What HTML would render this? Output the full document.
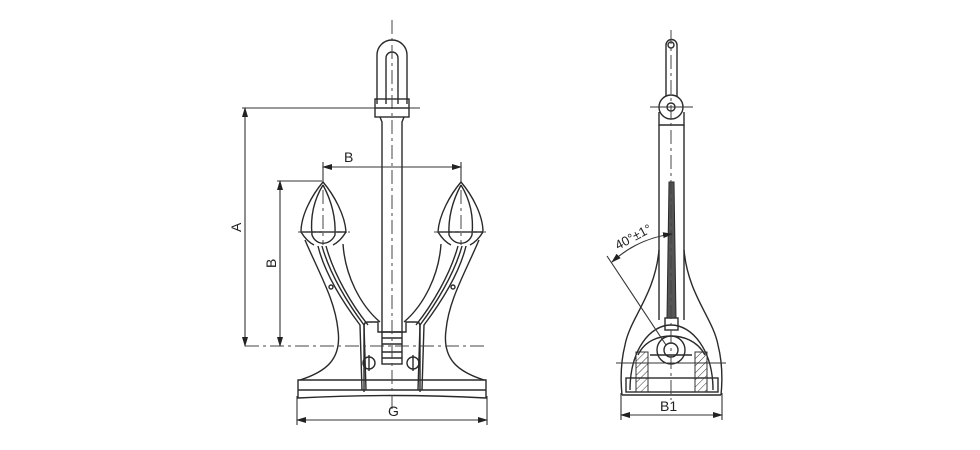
<!DOCTYPE html>
<html><head><style>
html,body{margin:0;padding:0;background:#fff;}
svg{display:block;}
text{font-family:"Liberation Sans",sans-serif;fill:#222;}
</style></head><body>
<svg width="980" height="450" viewBox="0 0 980 450" xmlns="http://www.w3.org/2000/svg">
<defs>
<marker id="ar" markerWidth="10" markerHeight="6" refX="9" refY="3" orient="auto-start-reverse" markerUnits="userSpaceOnUse">
<path d="M0,0 L10,3 L0,6 z" fill="#222"/></marker>
<pattern id="hat" width="5" height="5" patternUnits="userSpaceOnUse" patternTransform="rotate(45)">
<line x1="0" y1="0" x2="0" y2="5" stroke="#333" stroke-width="1"/></pattern>
<g id="halfL" fill="none" stroke="#2a2a2a" stroke-width="1.4">
  <path d="M323,182 C312,195 301,215 301,232 L346,232 C345,215 334,195 323,182 Z"/>
  <path d="M323,185 C315,198 310,215 312,235 C316,246 330,246 335,235 C336,215 330,198 323,185"/>
  <path d="M301,232 C306,240 310,243 314,245 M346,232 C341,240 337,243 333,245"/>
  <path d="M305,240 C320,275 335,300 338,330 C342,360 325,372 300,380"/>
  <path d="M343,244 C345,275 360,305 380,322"/>
  <path d="M318,246 C325,275 345,305 360,325 L362,390"/>
  <path d="M322,246 C330,275 349,305 364,325 L366,390"/>
  <path d="M326,246 C334,275 352,305 368,325"/>
  <circle cx="331" cy="287" r="2"/>
</g>
</defs>

<g fill="none" stroke="#2a2a2a" stroke-width="1.4">
  <use href="#halfL"/>
  <use href="#halfL" transform="translate(784,0) scale(-1,1)"/>
  <path d="M377,104 L377,55 A15,15 0 0 1 407,55 L407,104"/>
  <path d="M386,104 L386,58 A6,6 0 0 1 398,58 L398,104"/>
  <rect x="375" y="99" width="34" height="18"/>
  <line x1="375" y1="108" x2="409" y2="108"/>
  <path d="M380,117 L382,122 L382,332 M404,117 L402,122 L402,332"/>
  <path d="M364,392 L364,326 Q364,322 368,322 L378,322 L378,332 L406,332 L406,322 L416,322 Q420,322 420,326 L420,392"/>
  <rect x="382" y="332" width="20" height="32"/>
  <line x1="382" y1="338" x2="402" y2="338"/>
  <line x1="382" y1="344" x2="402" y2="344"/>
  <line x1="382" y1="352" x2="402" y2="352"/>
  <line x1="382" y1="358" x2="402" y2="358"/>
  <circle cx="369" cy="363" r="6"/><line x1="369" y1="355" x2="369" y2="371"/>
  <circle cx="413" cy="363" r="6"/><line x1="413" y1="355" x2="413" y2="371"/>
  <path d="M298,380 L486,380 L486,398 Q392,393 298,398 Z"/>
  <line x1="298" y1="390" x2="486" y2="390"/>
</g>

<g stroke="#444" stroke-width="1" fill="none" stroke-dasharray="14,4,3,4">
  <line x1="392" y1="20" x2="392" y2="412"/>
  <line x1="323" y1="190" x2="323" y2="245"/>
  <line x1="461" y1="190" x2="461" y2="245"/>
  <line x1="245" y1="346" x2="486" y2="346"/>
  <line x1="298" y1="232" x2="350" y2="232"/>
  <line x1="434" y1="232" x2="486" y2="232"/>
</g>
<g stroke="#333" stroke-width="1.1" fill="none">
  <line x1="242" y1="108" x2="420" y2="108"/>
  <line x1="245" y1="108" x2="245" y2="346" marker-start="url(#ar)" marker-end="url(#ar)"/>
  <line x1="277" y1="181" x2="322" y2="181"/>
  <line x1="280" y1="181" x2="280" y2="346" marker-start="url(#ar)" marker-end="url(#ar)"/>
  <line x1="323" y1="162" x2="323" y2="182"/>
  <line x1="461" y1="162" x2="461" y2="182"/>
  <line x1="323" y1="167" x2="461" y2="167" marker-start="url(#ar)" marker-end="url(#ar)"/>
  <line x1="297" y1="396" x2="297" y2="425"/>
  <line x1="487" y1="396" x2="487" y2="425"/>
  <line x1="297" y1="420" x2="487" y2="420" marker-start="url(#ar)" marker-end="url(#ar)"/>
</g>
<text x="344" y="162" font-size="14">B</text>
<text x="388" y="416" font-size="14">G</text>
<text x="0" y="0" font-size="14" transform="translate(241,232) rotate(-90)">A</text>
<text x="0" y="0" font-size="14" transform="translate(276,268) rotate(-90)">B</text>

<g fill="none" stroke="#2a2a2a" stroke-width="1.4">
  <path d="M666,96 L666,45 A5.5,5.5 0 0 1 677,45 L677,96"/>
  <circle cx="671" cy="45" r="3"/>
  <circle cx="671" cy="107" r="12"/>
  <circle cx="671" cy="107" r="4"/>
  <path d="M659,112 L659,125 L684,125 L684,112"/>
  <line x1="659" y1="125" x2="659" y2="320"/>
  <line x1="684" y1="125" x2="684" y2="320"/>
  <path d="M659,250 C655,295 630,318 625,345 C620,365 621,385 622,395"/>
  <path d="M684,250 C688,295 713,318 718,345 C723,365 722,385 721,395"/>
  <path d="M622,395 L721,395"/>
  <path d="M630,390 C630,350 650,325 671,325 C692,325 713,350 713,390"/>
  <path d="M638,355 C645,340 660,336 671,336 C682,336 697,340 705,355"/>
  <circle cx="671" cy="350" r="14"/>
  <circle cx="671" cy="350" r="7"/>
  <rect x="665" y="318" width="13" height="12"/>
  <rect x="626" y="378" width="92" height="14"/>
  <line x1="650" y1="355" x2="692" y2="355"/>
</g>
<path d="M669,182 L674,182 L676,318 L667,318 Z" fill="#555" stroke="#2a2a2a" stroke-width="1"/>
<g stroke="#333" stroke-width="1">
  <rect x="636" y="352" width="12" height="40" fill="url(#hat)"/>
  <rect x="695" y="352" width="12" height="40" fill="url(#hat)"/>
</g>
<g stroke="#444" stroke-width="1" fill="none" stroke-dasharray="14,4,3,4">
  <line x1="671" y1="30" x2="671" y2="400"/>
</g>
<g stroke="#333" stroke-width="1.1" fill="none">
  <line x1="650" y1="107" x2="693" y2="107"/>
  <line x1="616" y1="363" x2="726" y2="363"/>
  <line x1="607" y1="256" x2="666" y2="345"/>
  <path d="M612,262 A110,110 0 0 1 672,234" marker-start="url(#ar)" marker-end="url(#ar)"/>
  <line x1="621" y1="393" x2="621" y2="420"/>
  <line x1="722" y1="393" x2="722" y2="420"/>
  <line x1="621" y1="415" x2="722" y2="415" marker-start="url(#ar)" marker-end="url(#ar)"/>
</g>
<text x="0" y="0" font-size="13" transform="translate(618,250) rotate(-28)">40°±1°</text>
<text x="660" y="411" font-size="14">B1</text>
</svg>
</body></html>
